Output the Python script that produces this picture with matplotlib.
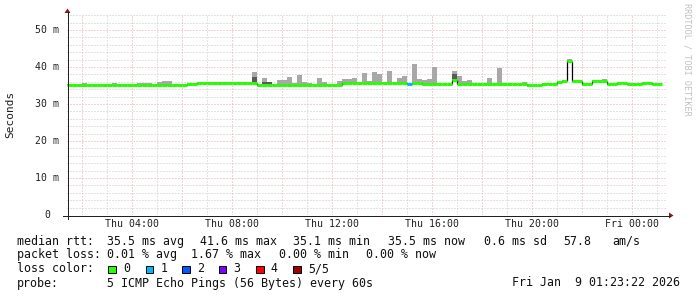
import numpy as np
import matplotlib
matplotlib.use("Agg")
import matplotlib.pyplot as plt
from matplotlib.patches import Rectangle, Polygon

W, H, DPI = 697, 297, 100
nan = float("nan")

# ---------------- data ----------------
start_hour = 1 + 23 / 60 + 22 / 3600      # Thu 01:23:22 (hours since Thu 00:00)
bin_hours = 0.2                            # 12 minute steps

median_ms = [
    35.1, 35.1, 35.1, 35.1, 35.1, 35.1, 35.1, 35.1, 35.1, 35.1,
    35.1, 35.1, 35.1, 35.1, 35.1, 35.1, 35.1, 35.1, 35.1, 35.1,
    35.1, 35.1, 35.1, 35.1, 35.5, 35.5, 35.8, 35.8, 35.8, 35.8,
    35.8, 35.8, 35.8, 35.8, 35.8, 35.8, 35.8, 35.8, 35.2, 35.2,
    35.2, 35.2, 35.2, 35.2, 35.2, 35.2, 35.2, 35.2, 35.2, 35.2,
    35.2, 35.2, 35.2, 35.1, 35.1, 35.6, 35.6, 35.7, 35.7, 35.7,
    35.6, 35.6, 35.6, 35.6, 35.6, 35.6, 35.6, 35.6, 35.5, 35.8,
    35.8, 35.3, 35.3, 35.3, 35.3, 35.3, 35.3, 36.4, 35.3, 35.3,
    35.3, 35.3, 35.3, 35.3, 35.3, 35.3, 35.3, 35.3, 35.3, 35.3,
    35.3, 35.3, 35.0, 35.0, 35.0, 35.4, 35.4, 35.4, 36.0, 36.2,
    41.6, 36.2, 36.2, 35.5, 35.5, 36.2, 36.2, 36.2, 35.5, 35.5,
    35.8, 35.8, 35.5, 35.5, 35.5, 35.8, 35.8, 35.5, 35.5, nan,
]

smoke_max_ms = [
    35.3, 35.3, 35.3, 35.8, 35.3, 35.3, 35.3, 35.3, 35.3, 35.8,
    35.3, 35.3, 35.3, 35.3, 35.8, 35.8, 35.8, 35.3, 35.9, 36.1,
    36.3, 35.3, 35.3, 35.3, 35.7, 35.7, 36.0, 36.0, 36.0, 36.0,
    36.0, 36.0, 36.0, 36.0, 36.0, 36.0, 36.0, 38.7, 35.5, 37.1,
    36.0, 35.5, 36.5, 36.5, 37.3, 35.6, 37.8, 36.0, 35.8, 35.4,
    37.1, 36.0, 35.4, 35.3, 36.3, 36.8, 36.8, 36.9, 35.9, 38.5,
    36.2, 38.7, 38.1, 35.9, 39.0, 35.8, 37.0, 37.6, 35.8, 40.8,
    36.8, 36.5, 36.8, 40.1, 35.7, 35.5, 35.5, 39.0, 37.6, 36.3,
    36.6, 35.8, 35.5, 35.5, 37.1, 35.7, 39.8, 35.6, 35.5, 35.5,
    35.5, 36.0, 35.2, 35.2, 35.2, 35.6, 35.6, 35.6, 36.2, 36.4,
    42.2, 36.4, 36.4, 35.7, 35.7, 36.4, 36.4, 36.7, 35.7, 35.7,
    36.0, 36.0, 35.7, 35.7, 35.7, 36.0, 36.0, 35.7, 35.7, nan,
]

dark_bins = [37, 39, 40, 77]
dark_lo_ms = [36.0, 35.5, 35.5, 36.8]
dark_hi_ms = [37.4, 35.9, 35.9, 38.1]

loss_bins = [68]
loss_levels = [1]

loss_colors = ["#26ff00", "#00b8ff", "#0059ff", "#7e00ff", "#ff0000", "#a00000"]
loss_labels = ["0", "1", "2", "3", "4", "5/5"]

x_tick_hours = [4, 8, 12, 16, 20, 24]
x_tick_labels = ["Thu 04:00", "Thu 08:00", "Thu 12:00", "Thu 16:00", "Thu 20:00", "Fri 00:00"]
y_tick_ms = [0, 10, 20, 30, 40, 50]
y_tick_labels = ["0", "10 m", "20 m", "30 m", "40 m", "50 m"]

rtt_line = [("median rtt:", 16.7), ("35.5 ms avg", 107.3), ("41.6 ms max", 200),
            ("35.1 ms min", 293.3), ("35.5 ms now", 388), ("0.6 ms sd", 484),
            ("57.8", 563), ("am/s", 612)]
loss_line = [("packet loss:", 16.7), ("0.01 % avg", 107.3), ("1.67 % max", 191),
             ("0.00 % min", 279), ("0.00 % now", 366)]
probe_text = "5 ICMP Echo Pings (56 Bytes) every 60s"
date_text = "Fri Jan  9 01:23:22 2026"
watermark = "RRDTOOL / TOBI OETIKER"

# ---------------- figure ----------------
MONO = "DejaVu Sans Mono"
fig = plt.figure(figsize=(W / DPI, H / DPI), dpi=DPI, facecolor="white")

px_per_ms = 3.7
y_top = 200 / px_per_ms
ax = fig.add_axes([67 / W, (H - 215) / H, 600 / W, 200 / H])
ax.set_xlim(start_hour, start_hour + 24)
ax.set_ylim(0, y_top)
ax.set_facecolor("white")
for s in ax.spines.values():
    s.set_visible(False)
ax.set_xticks([])
ax.set_yticks([])

# grid
minor_c, major_c = "#c8c8c8", "#e6a6a6"
dash = (0, (1, 2))
for hr in range(2, 26):
    if start_hour < hr < start_hour + 24:
        ax.axvline(hr, color=major_c if hr % 2 == 0 else minor_c,
                   lw=0.72, ls=dash, zorder=1)
for v in np.arange(2, 56, 2):
    ax.axhline(v, color=major_c if v % 10 == 0 else minor_c,
               lw=0.72, ls=dash, zorder=1,
               clip_on=False if v < y_top + 0.2 else True)

n = len(median_ms)
med = np.array(median_ms, dtype=float)
smax = np.array(smoke_max_ms, dtype=float)
left = start_hour + np.arange(n) * bin_hours
right = left + bin_hours
centers = left + bin_hours / 2

ok = ~np.isnan(med)
bottom = med - 0.3
ax.bar(centers[ok], (smax - bottom)[ok], bottom=bottom[ok], width=bin_hours,
       color="#a8a8a8", linewidth=0, zorder=2, antialiased=False)
db = np.array(dark_bins)
ax.bar(centers[db], np.array(dark_hi_ms) - np.array(dark_lo_ms), bottom=dark_lo_ms,
       width=bin_hours, color="#5a5a5a", linewidth=0, zorder=2.5, antialiased=False)

# thin black transitions between steps
for i in range(n - 1):
    if ok[i] and ok[i + 1] and med[i] != med[i + 1]:
        ax.vlines(right[i], min(med[i], med[i + 1]), max(med[i], med[i + 1]),
                  color="black", lw=0.9, zorder=3)

levels = np.zeros(n, dtype=int)
for b, lv in zip(loss_bins, loss_levels):
    levels[b] = lv
cols = [loss_colors[lv] for lv in levels[ok]]
ax.hlines(med[ok], left[ok], right[ok], colors=cols, lw=2.2, zorder=4,
          capstyle="butt")

# ---------------- overlay (pixel coordinates) ----------------
ov = fig.add_axes([0, 0, 1, 1], zorder=5)
ov.set_xlim(0, W)
ov.set_ylim(H, 0)
ov.axis("off")
ov.patch.set_alpha(0)

axis_c = "#202020"
arrow_c = "#8b1a1a"
ov.plot([63, 670], [215.5, 215.5], color=axis_c, lw=0.72)
ov.plot([67.5, 67.5], [219, 12], color=axis_c, lw=0.72)
ov.add_patch(Polygon([(669, 212.5), (673.5, 215.5), (669, 218.5)], closed=True,
                     color=arrow_c, lw=0))
ov.add_patch(Polygon([(64.5, 13), (67.5, 8.5), (70.5, 13)], closed=True,
                     color=arrow_c, lw=0))

# tick labels via the data axes' scales
for hr, lab in zip(x_tick_hours, x_tick_labels):
    ax.text(hr, -9 / px_per_ms, lab, ha="center", va="center", family=MONO,
            fontsize=7.1, color="#202020", clip_on=False)
for v, lab in zip(y_tick_ms, y_tick_labels):
    ax.text(start_hour - 20 / 25, v, lab, ha="center", va="center", family=MONO,
            fontsize=7.1, color="#202020", clip_on=False)

ov.text(10.5, 114, "Seconds", rotation=90, ha="center", va="center",
        family=MONO, fontsize=8, color="#202020")
ov.text(687, 59, watermark, rotation=270, ha="center", va="center",
        family=MONO, fontsize=6.1, color="#c0c0c0")

fs = 8.4
tc = "#101010"
for txt, x in rtt_line:
    ov.text(x, 241.3, txt, ha="left", va="center", family=MONO, fontsize=fs, color=tc)
for txt, x in loss_line:
    ov.text(x, 254.7, txt, ha="left", va="center", family=MONO, fontsize=fs, color=tc)
ov.text(16.7, 269, "loss color:", ha="left", va="center", family=MONO, fontsize=fs, color=tc)
box_x = [108.3, 145.7, 182.3, 219, 256.3, 293.3]
for bx, c, lab in zip(box_x, loss_colors, loss_labels):
    ov.add_patch(Rectangle((bx, 265.5), 7.3, 7.3, facecolor=c, edgecolor="black", lw=0.7))
    ov.text(bx + 14.5, 269, lab, ha="left", va="center", family=MONO, fontsize=fs, color=tc)
ov.text(16.7, 283, "probe:", ha="left", va="center", family=MONO, fontsize=fs, color=tc)
ov.text(107.3, 283, probe_text, ha="left", va="center", family=MONO, fontsize=fs, color=tc)
ov.text(680.5, 283, date_text, ha="right", va="center", family=MONO, fontsize=fs, color=tc)

fig.savefig("out.png", dpi=DPI, facecolor="white")
